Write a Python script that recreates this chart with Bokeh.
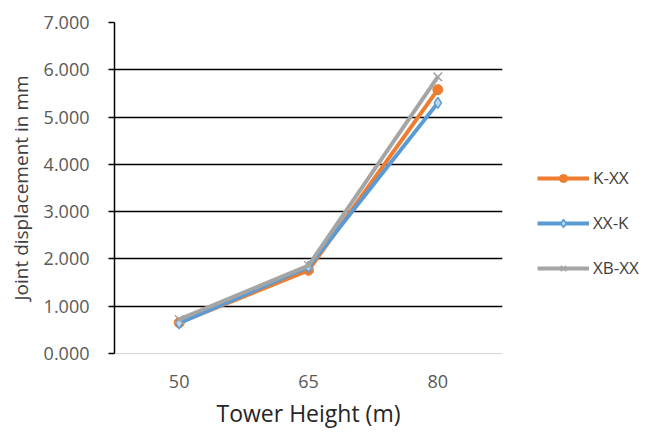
from bokeh.plotting import figure
from bokeh.models import FixedTicker, NumeralTickFormatter, Legend, LegendItem, Range1d
from bokeh.embed import file_html
from bokeh.resources import INLINE

heights = ["50", "65", "80"]
k_xx = [0.65, 1.76, 5.58]
xx_k = [0.64, 1.83, 5.30]
xb_xx = [0.72, 1.86, 5.85]
y_ticks = [0, 1, 2, 3, 4, 5, 6, 7]

p = figure(x_range=heights, y_range=Range1d(0, 7), output_backend="svg",
           toolbar_location=None, frame_width=388, frame_height=331,
           min_border_left=114, min_border_right=120, min_border_top=22,
           min_border_bottom=70)
p.outline_line_color = None
p.background_fill_color = "white"
p.x_range.range_padding = 0

r1 = p.line(heights, k_xx, line_color="#ED7D31", line_width=4)
m1 = p.scatter(heights, k_xx, marker="circle", size=10, fill_color="#ED7D31", line_color="#ED7D31")
r2 = p.line(heights, xx_k, line_color="#5B9BD5", line_width=4)
m2 = p.scatter(heights, xx_k, marker="diamond", size=11, fill_color="#BDD7EE", line_color="#5B9BD5", line_width=1.5)
r3 = p.line(heights, xb_xx, line_color="#A5A5A5", line_width=4)
m3 = p.scatter(heights, xb_xx, marker="x", size=12, line_color="#A5A5A5", line_width=1.5)

p.yaxis.ticker = FixedTicker(ticks=y_ticks)
p.yaxis.formatter = NumeralTickFormatter(format="0.000")
p.ygrid.ticker = FixedTicker(ticks=y_ticks[1:])
p.ygrid.grid_line_color = "black"
p.ygrid.grid_line_width = 1.5
p.xgrid.grid_line_color = None

p.yaxis.axis_line_color = "black"
p.yaxis.axis_line_width = 1.5
p.yaxis.major_tick_line_color = "black"
p.yaxis.major_tick_line_width = 1.5
p.yaxis.major_tick_out = 6
p.yaxis.major_tick_in = 0
p.yaxis.minor_tick_line_color = None
p.yaxis.major_label_text_font = "Open Sans"
p.yaxis.major_label_text_font_size = "18px"
p.yaxis.major_label_text_color = "#595959"
p.yaxis.major_label_standoff = 19
p.yaxis.axis_label = "Joint displacement in mm"
p.yaxis.axis_label_text_font = "Open Sans"
p.yaxis.axis_label_text_font_style = "normal"
p.yaxis.axis_label_text_font_size = "19px"
p.yaxis.axis_label_text_color = "#404040"
p.yaxis.axis_label_standoff = 7

p.xaxis.axis_line_color = "#D9D9D9"
p.xaxis.axis_line_width = 1
p.xaxis.major_tick_line_color = None
p.xaxis.minor_tick_line_color = None
p.xaxis.major_label_text_font = "Open Sans"
p.xaxis.major_label_text_font_size = "18px"
p.xaxis.major_label_text_color = "#595959"
p.xaxis.major_label_standoff = 15
p.xaxis.axis_label = "Tower Height (m)"
p.xaxis.axis_label_text_font = "Open Sans"
p.xaxis.axis_label_text_font_style = "normal"
p.xaxis.axis_label_text_font_size = "23px"
p.xaxis.axis_label_text_color = "#262626"
p.xaxis.axis_label_standoff = 6

legend = Legend(items=[LegendItem(label="K-XX", renderers=[r1, m1]),
                       LegendItem(label="XX-K", renderers=[r2, m2]),
                       LegendItem(label="XB-XX", renderers=[r3, m3])],
                location=(35, 74), orientation="vertical")
legend.border_line_color = None
legend.background_fill_alpha = 0
legend.margin = 0
legend.padding = 0
legend.glyph_width = 52
legend.glyph_height = 20
legend.spacing = 22
legend.label_text_font = "Open Sans"
legend.label_text_font_size = "17px"
legend.label_text_color = "#404040"
legend.label_standoff = 4
p.add_layout(legend, "right")

open("out.html", "w").write(file_html(p, INLINE))
